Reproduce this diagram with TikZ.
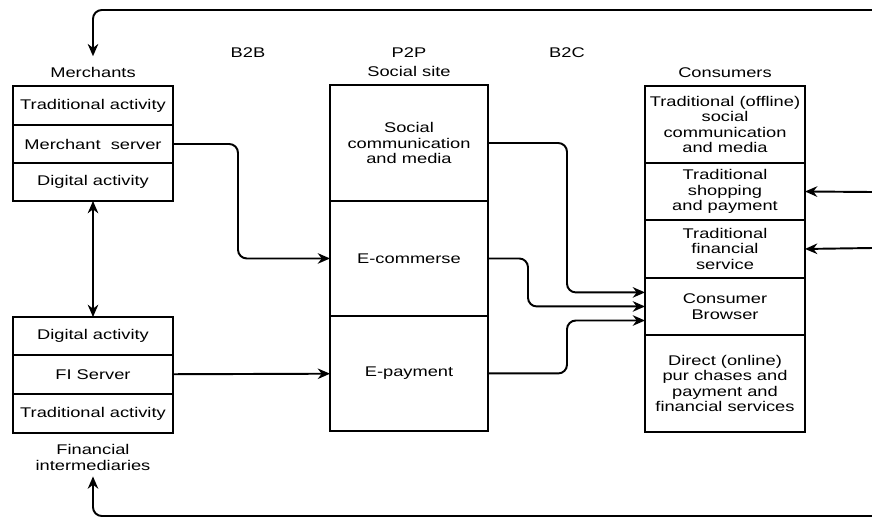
\documentclass[tikz,border=0pt]{standalone}
\usepackage{fontspec}
\setmainfont{Liberation Sans}[FakeStretch=1.3]
\usetikzlibrary{positioning,arrows.meta}

\begin{document}
\begin{tikzpicture}[
    x=0.02cm, y=-0.02cm,
    font=\fontsize{8pt}{8.8pt}\selectfont,
    every node/.style={align=center},
    cell/.style={draw, line width=1.3pt, outer sep=0pt, inner sep=1pt, minimum width=3.2cm},
    arr/.style={-{Stealth[length=7pt, width=6pt]}, line width=1.1pt, rounded corners=5pt},
    dblarr/.style={{Stealth[length=7pt, width=6pt]}-{Stealth[length=7pt, width=6pt]}, line width=1.1pt},
]
\useasboundingbox (0,0) rectangle (872,518);

% Merchants
\node[cell, minimum height=0.78cm, anchor=north] (mtrad) at (93,86) {Traditional activity};
\node[cell, minimum height=0.76cm, below=0pt of mtrad] (mserv) {Merchant\ \ server};
\node[cell, minimum height=0.76cm, below=0pt of mserv] (mdig)  {Digital activity};
\node[above=1pt of mtrad] (mlabel) {Merchants};

% Financial intermediaries
\node[cell, minimum height=0.76cm, anchor=north] (fidig) at (93,317) {Digital activity};
\node[cell, minimum height=0.78cm, below=0pt of fidig]  (fiserv) {FI Server};
\node[cell, minimum height=0.78cm, below=0pt of fiserv] (fitrad) {Traditional activity};
\node[below=3pt of fitrad] (filabel) {Financial\\intermediaries};

% Social site
\node[cell, minimum width=3.16cm, minimum height=2.32cm, anchor=north] (social) at (409,85) {Social\\communication\\and media};
\node[cell, minimum width=3.16cm, minimum height=2.3cm, below=0pt of social] (ecom) {E-commerse};
\node[cell, minimum width=3.16cm, minimum height=2.3cm, below=0pt of ecom]   (epay) {E-payment};
\node[above=1pt of social] (slabel) {Social site};
\node[above=-2pt of slabel] (p2p) {P2P};
\node (b2b) at (248,53) {B2B};
\node (b2c) at (567,53) {B2C};

% Consumers
\node[cell, minimum height=1.54cm, anchor=north] (ctrad) at (725,86) {Traditional (offline)\\social\\communication\\and media};
\node[cell, minimum height=1.14cm, below=0pt of ctrad]   (cshop)   {Traditional\\shopping\\and payment};
\node[cell, minimum height=1.16cm, below=0pt of cshop]   (cfin)    {Traditional\\financial\\service};
\node[cell, minimum height=1.14cm, below=0pt of cfin]    (browser) {Consumer\\Browser};
\node[cell, minimum height=1.94cm, below=0pt of browser] (direct)  {Direct (online)\\pur chases and\\payment and\\financial services};
\node[above=1pt of ctrad] (clabel) {Consumers};

% Loose ends at the right edge
\coordinate (topR)  at (872,10);
\coordinate (botR)  at (872,516);
\coordinate (shopR) at (872,192);
\coordinate (finR)  at (872,248);

% Arrows
\draw[arr, shorten >=3pt] (topR) -| (mlabel.north);
\draw[arr] (botR) -| (filabel.south);
\draw[dblarr] (mdig) -- (fidig);
\draw[arr] (mserv.east) -- ++(65,0) |- (ecom.west);
\draw[arr] (fiserv) -- (epay);
\draw[arr] (social.east) -- ++(79,0) |- ([yshift=8pt]browser.west);
\draw[arr] (ecom.east) -- ++(40,0) |- (browser.west);
\draw[arr] (epay.east) -- ++(79,0) |- ([yshift=-8pt]browser.west);
\draw[arr] (shopR) -- (cshop.east);
\draw[arr] (finR) -- (cfin.east);

\end{tikzpicture}
\end{document}
